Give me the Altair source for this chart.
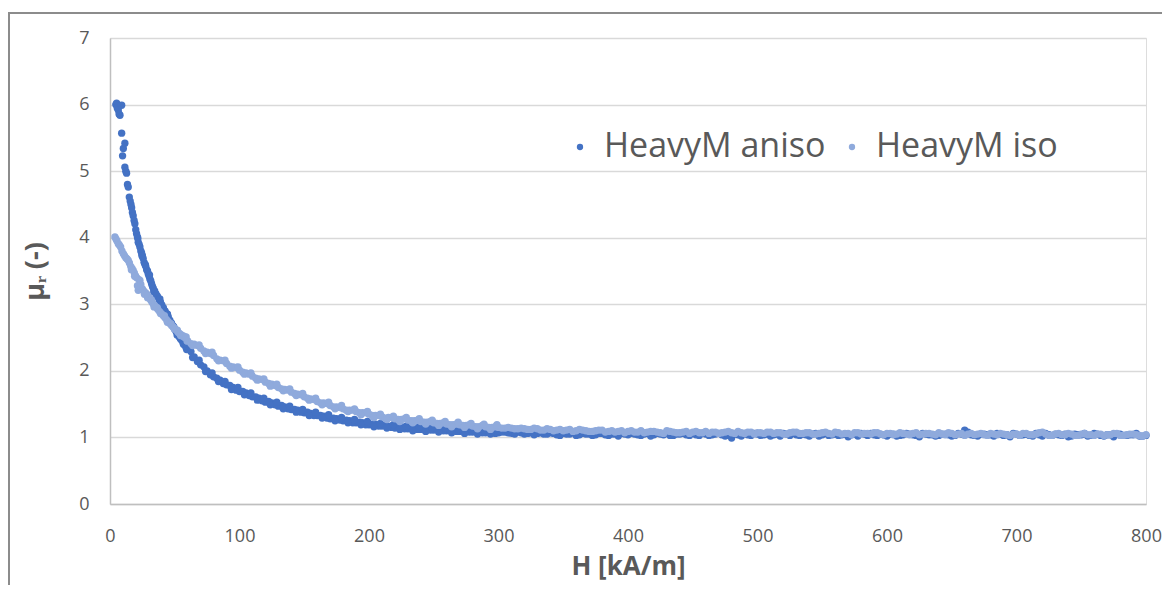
import altair as alt
import pandas as pd

SERIES = ["HeavyM aniso", "HeavyM iso"]
COLORS = ["#4472C4", "#8FAADC"]

X_TICKS = [0, 100, 200, 300, 400, 500, 600, 700, 800]
Y_TICKS = [0, 1, 2, 3, 4, 5, 6, 7]

# HeavyM aniso, low-field part (H in kA/m, relative permeability)
H_ANISO_LOW = [4.5, 5.1, 5.6, 6.4, 7.0, 7.7, 9.0, 9.0, 9.7, 10.3, 11.5, 11.5, 12.2, 12.8,
               13.5, 14.1, 14.9, 15.6, 16.2, 16.7, 17.3, 17.9, 18.6, 19.2, 19.9, 20.5, 21.2,
               21.8, 22.5, 23.1, 23.8, 24.4, 25.0, 25.6, 26.3, 27.0, 27.6, 28.3, 29.0, 29.5,
               30.2, 30.8, 31.5, 32.1, 32.8, 33.4, 34.5, 35.4, 36.6, 37.9, 39.0, 40.0, 41.2,
               42.5, 43.8, 45.0, 46.2, 47.4, 48.6, 49.8, 51.0, 52.3, 53.6, 54.8, 56.0, 57.3,
               58.5,
               21.5, 24.7, 27.3, 30.5, 33.8, 36.0, 38.5, 41.8, 44.4, 47.0, 49.3, 51.8, 54.2,
               56.7, 59.2]
MU_ANISO_LOW = [6.00, 6.02, 5.95, 5.92, 5.86, 5.84, 5.99, 5.57, 5.23, 5.34, 5.42, 5.06, 5.00, 4.97,
                4.80, 4.76, 4.61, 4.55, 4.50, 4.45, 4.38, 4.33, 4.26, 4.21, 4.12, 4.06, 4.01,
                3.93, 3.90, 3.86, 3.80, 3.77, 3.73, 3.69, 3.63, 3.60, 3.57, 3.52, 3.50, 3.46,
                3.42, 3.38, 3.35, 3.31, 3.27, 3.24, 3.20, 3.16, 3.12, 3.07, 3.03, 2.99, 2.95,
                2.90, 2.86, 2.81, 2.76, 2.72, 2.68, 2.63, 2.59, 2.55, 2.51, 2.47, 2.44, 2.40,
                2.36,
                3.99, 3.73, 3.59, 3.44, 3.19, 3.13, 3.08, 2.90, 2.85, 2.72, 2.66, 2.54, 2.49,
                2.40, 2.32]

# HeavyM iso, low-field part
H_ISO_LOW = [3.8, 4.6, 5.4, 6.4, 7.2, 8.2, 9.2, 10.3, 11.2, 12.2, 13.2, 14.1, 15.0, 16.0, 17.0,
             17.9, 18.8, 19.7, 20.6, 21.8, 22.4, 23.1, 24.0, 25.0, 26.0, 27.1, 28.2, 29.3,
             30.4, 31.5, 32.5, 33.5, 34.6, 35.8, 37.0, 38.3, 39.7, 41.0, 42.3, 43.6, 45.0,
             46.2, 47.5, 48.8, 50.0, 51.3, 52.6, 53.8, 55.1, 56.4, 57.7,
             16.5, 19.0, 21.2, 23.8, 26.6, 29.0, 31.9, 34.0, 36.5, 39.0, 42.0, 44.3, 47.0,
             49.4, 52.0, 54.5, 57.0, 59.5]
MU_ISO_LOW = [4.01, 3.98, 3.95, 3.91, 3.89, 3.86, 3.80, 3.76, 3.73, 3.70, 3.68, 3.66, 3.62, 3.57, 3.54,
              3.51, 3.47, 3.43, 3.40, 3.21, 3.37, 3.36, 3.25, 3.23, 3.20, 3.18, 3.16, 3.12,
              3.09, 3.06, 3.03, 3.00, 2.98, 2.95, 2.92, 2.89, 2.86, 2.83, 2.80, 2.77, 2.74,
              2.71, 2.68, 2.66, 2.63, 2.61, 2.58, 2.56, 2.54, 2.52, 2.50,
              3.52, 3.42, 3.28, 3.30, 3.15, 3.10, 3.07, 2.96, 2.95, 2.86, 2.83, 2.73, 2.71,
              2.64, 2.61, 2.53, 2.52, 2.45]

# high-field part, first sweep (shared H grid)
H_HIGH = [60, 65, 70, 75, 80, 85, 90, 95, 100, 105, 110, 115, 120, 125, 130, 135, 140, 145,
          150, 155, 160, 165, 170, 175, 180, 185, 190, 195, 200, 205, 210, 215, 220, 225,
          230, 235, 240, 245, 250, 255, 260, 265, 270, 275, 280, 285, 290, 295, 300, 305,
          310, 315, 320, 325, 330, 335, 340, 345, 350, 355, 360, 365, 370, 375, 380, 385,
          390, 395, 400, 405, 410, 415, 420, 425, 430, 435, 440, 445, 450, 455, 460, 465,
          470, 475, 480, 485, 490, 495, 500, 505, 510, 515, 520, 525, 530, 535, 540, 545,
          550, 555, 560, 565, 570, 575, 580, 585, 590, 595, 600, 605, 610, 615, 620, 625,
          630, 635, 640, 645, 650, 655, 660, 665, 670, 675, 680, 685, 690, 695, 700, 705,
          710, 715, 720, 725, 730, 735, 740, 745, 750, 755, 760, 765, 770, 775, 780, 785,
          790, 795, 800]
MU_ANISO_HIGH = [2.33, 2.21, 2.09, 2.00, 1.91, 1.86, 1.79, 1.75, 1.69, 1.67, 1.61, 1.59, 1.53, 1.52,
                 1.47, 1.46, 1.42, 1.41, 1.37, 1.36, 1.33, 1.32, 1.28, 1.28, 1.25, 1.25, 1.22,
                 1.22, 1.19, 1.20, 1.17, 1.17, 1.14, 1.16, 1.13, 1.14, 1.12, 1.13, 1.11, 1.12,
                 1.10, 1.11, 1.09, 1.10, 1.08, 1.10, 1.07, 1.09, 1.07, 1.08, 1.06, 1.08, 1.05,
                 1.07, 1.06, 1.05, 1.07, 1.04, 1.06, 1.05, 1.03, 1.06, 1.05, 1.04, 1.06, 1.03,
                 1.05, 1.06, 1.04, 1.05, 1.03, 1.06, 1.04, 1.05, 1.07, 1.03, 1.05, 1.04, 1.06,
                 1.03, 1.05, 1.04, 1.06, 1.02, 0.99, 1.04, 1.06, 1.03, 1.05, 1.04, 1.02, 1.05,
                 1.06, 1.03, 1.04, 1.05, 1.02, 1.06, 1.04, 1.03, 1.05, 1.04, 1.01, 1.05, 1.06,
                 1.03, 1.04, 1.05, 1.02, 1.05, 1.03, 1.06, 1.04, 1.01, 1.05, 1.04, 1.03, 1.05,
                 1.02, 1.06, 1.11, 1.04, 1.02, 1.05, 1.04, 1.06, 1.03, 1.01, 1.05, 1.04, 1.03,
                 1.06, 1.02, 1.04, 1.05, 1.03, 1.01, 1.05, 1.04, 1.02, 1.06, 1.03, 1.04, 1.01,
                 1.05, 1.03, 1.04, 1.02, 1.03]
MU_ISO_HIGH = [2.45, 2.40, 2.34, 2.28, 2.23, 2.16, 2.11, 2.06, 2.01, 1.97, 1.92, 1.88, 1.83, 1.80,
               1.75, 1.72, 1.68, 1.65, 1.61, 1.58, 1.54, 1.52, 1.48, 1.46, 1.43, 1.41, 1.39,
               1.37, 1.35, 1.33, 1.31, 1.30, 1.28, 1.27, 1.26, 1.25, 1.24, 1.23, 1.22, 1.21,
               1.20, 1.19, 1.19, 1.18, 1.17, 1.16, 1.16, 1.15, 1.15, 1.14, 1.14, 1.13, 1.13,
               1.12, 1.13, 1.11, 1.12, 1.11, 1.10, 1.12, 1.10, 1.11, 1.09, 1.10, 1.11, 1.09,
               1.08, 1.10, 1.09, 1.08, 1.10, 1.08, 1.09, 1.07, 1.10, 1.08, 1.07, 1.09, 1.08,
               1.07, 1.09, 1.08, 1.06, 1.08, 1.07, 1.09, 1.06, 1.08, 1.07, 1.06, 1.08, 1.07,
               1.05, 1.07, 1.08, 1.06, 1.07, 1.05, 1.07, 1.06, 1.08, 1.05, 1.06, 1.07, 1.05,
               1.06, 1.07, 1.05, 1.06, 1.04, 1.07, 1.05, 1.06, 1.04, 1.06, 1.05, 1.07, 1.04,
               1.06, 1.05, 1.03, 1.06, 1.05, 1.04, 1.06, 1.04, 1.05, 1.03, 1.05, 1.06, 1.04,
               1.05, 1.08, 1.03, 1.05, 1.04, 1.06, 1.03, 1.05, 1.04, 1.03, 1.05, 1.04, 1.06,
               1.03, 1.04, 1.05, 1.03, 1.04]

# high-field part, second sweep (interleaved H grid)
H_HIGH2 = [62.5, 67.5, 72.5, 77.5, 82.5, 87.5, 92.5, 97.5, 102.5, 107.5,
           112.5, 117.5, 122.5, 127.5, 132.5, 137.5, 142.5, 147.5, 152.5, 157.5,
           162.5, 167.5, 172.5, 177.5, 182.5, 187.5, 192.5, 197.5, 202.5, 207.5,
           212.5, 217.5, 222.5, 227.5, 232.5, 237.5, 242.5, 247.5, 252.5, 257.5,
           262.5, 267.5, 272.5, 277.5, 282.5, 287.5, 292.5, 297.5, 302.5, 307.5,
           312.5, 317.5, 322.5, 327.5, 332.5, 337.5, 342.5, 347.5, 352.5, 357.5,
           362.5, 367.5, 372.5, 377.5, 382.5, 387.5, 392.5, 397.5, 402.5, 407.5,
           412.5, 417.5, 422.5, 427.5, 432.5, 437.5, 442.5, 447.5, 452.5, 457.5,
           462.5, 467.5, 472.5, 477.5, 482.5, 487.5, 492.5, 497.5, 502.5, 507.5,
           512.5, 517.5, 522.5, 527.5, 532.5, 537.5, 542.5, 547.5, 552.5, 557.5,
           562.5, 567.5, 572.5, 577.5, 582.5, 587.5, 592.5, 597.5, 602.5, 607.5,
           612.5, 617.5, 622.5, 627.5, 632.5, 637.5, 642.5, 647.5, 652.5, 657.5,
           662.5, 667.5, 672.5, 677.5, 682.5, 687.5, 692.5, 697.5, 702.5, 707.5,
           712.5, 717.5, 722.5, 727.5, 732.5, 737.5, 742.5, 747.5, 752.5, 757.5,
           762.5, 767.5, 772.5, 777.5, 782.5, 787.5, 792.5, 797.5]
MU_ANISO_HIGH2 = [2.29, 2.14, 2.06, 1.94, 1.89, 1.81, 1.78, 1.71, 1.69, 1.63,
                  1.61, 1.55, 1.54, 1.49, 1.48, 1.43, 1.42, 1.38, 1.38, 1.33,
                  1.33, 1.29, 1.29, 1.26, 1.26, 1.22, 1.23, 1.19, 1.20, 1.17,
                  1.18, 1.15, 1.16, 1.13, 1.14, 1.12, 1.13, 1.11, 1.12, 1.10,
                  1.11, 1.09, 1.10, 1.08, 1.09, 1.07, 1.09, 1.06, 1.08, 1.07,
                  1.05, 1.07, 1.06, 1.04, 1.07, 1.05, 1.06, 1.03, 1.05, 1.07,
                  1.04, 1.05, 1.03, 1.06, 1.04, 1.05, 1.02, 1.05, 1.06, 1.04,
                  1.05, 1.02, 1.06, 1.04, 1.03, 1.05, 1.06, 1.03, 1.04, 1.06,
                  1.03, 1.05, 1.04, 1.03, 1.05, 1.02, 1.04, 1.06, 1.03, 1.05,
                  1.04, 1.02, 1.05, 1.06, 1.03, 1.04, 1.05, 1.02, 1.06, 1.04,
                  1.03, 1.05, 1.04, 1.02, 1.05, 1.06, 1.03, 1.04, 1.05, 1.02,
                  1.04, 1.05, 1.03, 1.06, 1.04, 1.02, 1.05, 1.04, 1.03, 1.05,
                  1.08, 1.03, 1.05, 1.04, 1.02, 1.05, 1.04, 1.06, 1.03, 1.05,
                  1.02, 1.04, 1.06, 1.03, 1.04, 1.05, 1.02, 1.04, 1.06, 1.03,
                  1.05, 1.02, 1.04, 1.05, 1.03, 1.04, 1.06, 1.02]
MU_ISO_HIGH2 = [2.41, 2.38, 2.30, 2.26, 2.18, 2.15, 2.07, 2.05, 1.98, 1.95,
                1.89, 1.87, 1.81, 1.78, 1.73, 1.71, 1.66, 1.64, 1.59, 1.57,
                1.52, 1.51, 1.46, 1.45, 1.41, 1.41, 1.37, 1.37, 1.33, 1.33,
                1.29, 1.30, 1.27, 1.28, 1.25, 1.26, 1.23, 1.24, 1.21, 1.22,
                1.19, 1.20, 1.18, 1.19, 1.16, 1.18, 1.15, 1.16, 1.14, 1.15,
                1.13, 1.14, 1.12, 1.14, 1.11, 1.13, 1.10, 1.12, 1.11, 1.09,
                1.12, 1.10, 1.09, 1.11, 1.08, 1.10, 1.09, 1.07, 1.10, 1.08,
                1.07, 1.09, 1.08, 1.06, 1.09, 1.07, 1.08, 1.06, 1.09, 1.07,
                1.06, 1.08, 1.07, 1.09, 1.06, 1.07, 1.08, 1.05, 1.07, 1.08,
                1.06, 1.07, 1.05, 1.08, 1.06, 1.07, 1.05, 1.06, 1.08, 1.05,
                1.07, 1.06, 1.04, 1.07, 1.06, 1.05, 1.07, 1.04, 1.06, 1.05,
                1.06, 1.04, 1.07, 1.05, 1.06, 1.04, 1.05, 1.07, 1.04, 1.06,
                1.05, 1.04, 1.06, 1.03, 1.05, 1.06, 1.04, 1.05, 1.03, 1.06,
                1.04, 1.07, 1.05, 1.03, 1.06, 1.04, 1.05, 1.03, 1.06, 1.04,
                1.05, 1.03, 1.04, 1.06, 1.03, 1.05, 1.04, 1.02]

# mid-field part, third sweep (scatter of the band edges)
H_MID3 = [58.8, 63.8, 68.8, 73.8, 78.8, 83.8, 88.8, 93.8, 98.8, 103.8,
          108.8, 113.8, 118.8, 123.8, 128.8, 133.8, 138.8, 143.8, 148.8, 153.8,
          158.8, 163.8, 168.8, 173.8, 178.8, 183.8, 188.8, 193.8, 198.8, 203.8,
          208.8, 213.8, 218.8, 223.8, 228.8, 233.8, 238.8, 243.8, 248.8, 253.8,
          258.8, 263.8, 268.8, 273.8, 278.8, 283.8, 288.8, 293.8, 298.8]
MU_ANISO_MID3 = [2.40, 2.20, 2.16, 1.99, 1.97, 1.84, 1.84, 1.72, 1.75, 1.64,
                 1.67, 1.56, 1.59, 1.49, 1.53, 1.43, 1.47, 1.38, 1.42, 1.33,
                 1.38, 1.29, 1.34, 1.25, 1.30, 1.22, 1.27, 1.19, 1.24, 1.16,
                 1.21, 1.14, 1.19, 1.12, 1.17, 1.10, 1.16, 1.09, 1.15, 1.08,
                 1.14, 1.07, 1.13, 1.06, 1.12, 1.05, 1.11, 1.05, 1.10]
MU_ISO_MID3 = [2.51, 2.38, 2.39, 2.26, 2.28, 2.15, 2.16, 2.04, 2.06, 1.95,
               1.97, 1.86, 1.88, 1.77, 1.80, 1.70, 1.73, 1.63, 1.66, 1.56,
               1.59, 1.49, 1.53, 1.43, 1.48, 1.39, 1.43, 1.34, 1.39, 1.30,
               1.35, 1.27, 1.32, 1.24, 1.30, 1.22, 1.28, 1.20, 1.26, 1.18,
               1.24, 1.16, 1.23, 1.15, 1.21, 1.13, 1.20, 1.12, 1.19]

rows = []
for h, m in zip(H_ANISO_LOW + H_HIGH + H_HIGH2 + H_MID3,
                MU_ANISO_LOW + MU_ANISO_HIGH + MU_ANISO_HIGH2 + MU_ANISO_MID3):
    rows.append({"H": h, "mu": m, "series": SERIES[0]})
for h, m in zip(H_ISO_LOW + H_HIGH + H_HIGH2 + H_MID3,
                MU_ISO_LOW + MU_ISO_HIGH + MU_ISO_HIGH2 + MU_ISO_MID3):
    rows.append({"H": h, "mu": m, "series": SERIES[1]})
df = pd.DataFrame(rows)

FONT = "Open Sans"
GREY = "#595959"

points = alt.Chart(df).mark_circle(size=54, opacity=1).encode(
    x=alt.X("H:Q",
            scale=alt.Scale(domain=[0, 800], nice=False),
            axis=alt.Axis(values=X_TICKS, title="H [kA/m]", grid=False, ticks=False,
                          labelFlush=False,
                          domainColor="#BFBFBF", domainWidth=1.5,
                          labelFontSize=18, labelColor=GREY, labelFont=FONT,
                          labelPadding=23, titleFontSize=26, titleFont=FONT,
                          titleFontWeight="bold", titleColor=GREY, titlePadding=8)),
    y=alt.Y("mu:Q",
            scale=alt.Scale(domain=[0, 7], nice=False),
            axis=alt.Axis(values=Y_TICKS, title="μᵣ (-)", grid=True, gridColor="#D9D9D9",
                          gridWidth=1.5, ticks=False, domainColor="#BFBFBF", domainWidth=1.5,
                          labelFlush=False,
                          labelFontSize=18, labelColor=GREY, labelFont=FONT,
                          labelPadding=21, titleFontSize=27, titleFont=FONT,
                          titleFontWeight="bold", titleColor=GREY, titlePadding=29)),
    color=alt.Color("series:N",
                    scale=alt.Scale(domain=SERIES, range=COLORS),
                    legend=alt.Legend(title=None, orient="none", legendX=453, legendY=92,
                                      direction="horizontal", symbolType="circle",
                                      symbolSize=40, labelFontSize=34, labelColor=GREY,
                                      labelFont=FONT, labelOffset=7, columnPadding=9,
                                      labelLimit=0, symbolStrokeWidth=0)),
)

frame_top = alt.Chart(df).mark_rule(color="#8C8C8C", strokeWidth=1.5).encode(
    x=alt.value(-102), x2=alt.value(1052), y=alt.value(-25))
frame_left = alt.Chart(df).mark_rule(color="#8C8C8C", strokeWidth=1.5).encode(
    x=alt.value(-101), y=alt.value(-25), y2=alt.value(600))

chart = alt.layer(frame_top, frame_left, points).properties(
    width=1036, height=466,
    autosize=alt.AutoSizeParams(type="none"),
    padding={"left": 102, "top": 30, "right": 16, "bottom": 81},
).configure_view(stroke=None).configure(background="white")

chart.save("out.html", embed_options={"renderer": "svg", "actions": False})
